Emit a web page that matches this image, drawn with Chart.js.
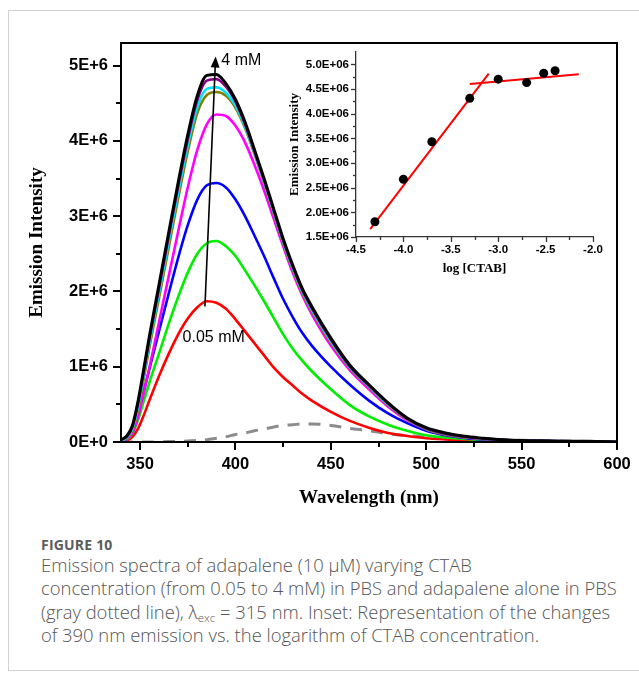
<!DOCTYPE html>
<html><head><meta charset="utf-8">
<script src="https://cdn.jsdelivr.net/npm/chart.js@4.4.1/dist/chart.umd.min.js"></script>
<style>
html,body{margin:0;padding:0;background:#fff;width:639px;height:677px;overflow:hidden;}
#card{position:absolute;left:8px;top:10px;width:700px;height:661px;border:1px solid #d2d2d2;box-sizing:border-box;}
#main{position:absolute;left:0;top:0;}
#inset{position:absolute;left:280px;top:40px;}
#figlabel{position:absolute;left:41px;top:535px;font:700 14px 'Open Sans';color:#5c5c5c;letter-spacing:0.2px;}
#caption{position:absolute;left:41px;top:553px;font:300 18.4px/23.4px 'Open Sans';color:#555;white-space:nowrap;}
#caption sub{font-size:11.5px;vertical-align:-3px;line-height:0;}
</style></head>
<body>
<div id="card"></div>
<canvas id="main" width="639" height="530"></canvas>
<canvas id="inset" width="340" height="240"></canvas>
<div id="figlabel">FIGURE 10</div>
<div id="caption">Emission spectra of adapalene (10 µM) varying CTAB<br>concentration (from 0.05 to 4 mM) in PBS and adapalene alone in PBS<br>(gray dotted line), λ<sub>exc</sub> = 315 nm. Inset: Representation of the changes<br>of 390 nm emission vs. the logarithm of CTAB concentration.</div>
<script>
// ---------- main spectra data (intensity in units of 1E+6) ----------
const wavelength = [340,343,346,349,352,355,360,365,370,375,380,385,390,395,400,405,410,415,420,425,430,435,440,450,460,470,480,490,500,510,520,530,540,550,560,575,590,600];
const conc4mM   = [0.03,0.08,0.22,0.55,0.98,1.42,2.10,2.78,3.45,4.08,4.60,4.87,4.88,4.76,4.55,4.25,3.88,3.50,3.10,2.70,2.35,2.04,1.80,1.38,1.02,0.76,0.52,0.32,0.19,0.12,0.075,0.05,0.03,0.02,0.015,0.01,0.005,0.0];
const conc3mM   = [0.03,0.07,0.20,0.52,0.94,1.38,2.05,2.73,3.40,4.02,4.54,4.80,4.82,4.72,4.52,4.22,3.86,3.48,3.08,2.68,2.33,2.02,1.78,1.36,1.00,0.75,0.51,0.31,0.18,0.11,0.07,0.045,0.03,0.02,0.015,0.01,0.005,0.0];
const conc2mM   = [0.02,0.06,0.18,0.48,0.90,1.33,1.99,2.66,3.32,3.94,4.45,4.69,4.71,4.64,4.47,4.19,3.84,3.46,3.06,2.66,2.31,2.00,1.76,1.34,0.99,0.74,0.50,0.31,0.18,0.11,0.07,0.045,0.03,0.02,0.015,0.01,0.005,0.0];
const conc1mM   = [0.02,0.05,0.16,0.44,0.85,1.27,1.92,2.58,3.24,3.86,4.37,4.61,4.65,4.60,4.44,4.17,3.82,3.44,3.04,2.64,2.29,1.98,1.74,1.32,0.98,0.73,0.49,0.30,0.17,0.10,0.065,0.04,0.028,0.02,0.014,0.009,0.005,0.0];
const conc05mM  = [0.01,0.04,0.12,0.34,0.66,1.00,1.60,2.20,2.80,3.38,3.88,4.22,4.35,4.33,4.20,3.98,3.68,3.34,2.97,2.60,2.25,1.95,1.70,1.28,0.95,0.70,0.47,0.29,0.17,0.10,0.06,0.04,0.025,0.02,0.012,0.008,0.004,0.0];
const conc02mM  = [0.01,0.04,0.14,0.38,0.68,0.98,1.48,1.97,2.45,2.88,3.22,3.41,3.44,3.38,3.22,3.00,2.74,2.47,2.18,1.90,1.66,1.45,1.28,1.00,0.76,0.55,0.38,0.25,0.15,0.09,0.055,0.035,0.025,0.015,0.01,0.006,0.003,0.0];
const conc01mM  = [0.01,0.03,0.11,0.30,0.55,0.80,1.18,1.57,1.93,2.25,2.50,2.64,2.67,2.60,2.47,2.28,2.08,1.87,1.65,1.43,1.24,1.08,0.94,0.70,0.49,0.34,0.23,0.15,0.09,0.06,0.04,0.025,0.018,0.012,0.008,0.005,0.002,0.0];
const conc005mM = [0.01,0.02,0.07,0.18,0.36,0.56,0.88,1.17,1.43,1.64,1.79,1.87,1.85,1.77,1.63,1.47,1.31,1.15,0.99,0.86,0.75,0.64,0.55,0.40,0.28,0.19,0.12,0.08,0.05,0.035,0.025,0.018,0.012,0.008,0.005,0.003,0.001,0.0];
const adapaleneAlone = [0,0,0,0,0,0,0.003,0.005,0.008,0.012,0.02,0.03,0.05,0.07,0.10,0.12,0.15,0.17,0.20,0.22,0.23,0.24,0.24,0.22,0.18,0.15,0.11,0.085,0.065,0.05,0.04,0.033,0.028,0.022,0.018,0.012,0.008,0.006];

const xTickValues = [350,400,450,500,550,600];
const xTickLabels = ['350','400','450','500','550','600'];
const xMinorTicks = [375,425,475,525,575];
const yTickValues = [0,1,2,3,4,5];
const yTickLabels = ['0E+0','1E+6','2E+6','3E+6','4E+6','5E+6'];
const yMinorTicks = [0.5,1.5,2.5,3.5,4.5];

// arrow annotation (data coordinates)
const arrowFrom = {x: 384, y: 1.80};
const arrowTo   = {x: 389.6, y: 5.12};
const labelHigh = {x: 392.6, y: 5.07, text: '4 mM'};
const labelLow  = {x: 372.3, y: 1.39, text: '0.05 mM'};

// ---------- inset data ----------
const logCTAB = [-4.30,-4.00,-3.70,-3.30,-3.00,-2.70,-2.52,-2.40];
const insetIntensity = [1.81,2.67,3.43,4.31,4.70,4.63,4.82,4.87];
const fitLowX = [-4.35,-3.10];
const fitLowY = [1.66,4.81];
const fitHighX = [-3.30,-2.15];
const fitHighY = [4.60,4.80];
const insetXTickValues = [-4.5,-4.0,-3.5,-3.0,-2.5,-2.0];
const insetXTickLabels = ['-4.5','-4.0','-3.5','-3.0','-2.5','-2.0'];
const insetXMinor = [-4.25,-3.75,-3.25,-2.75,-2.25];
const insetYTickValues = [1.5,2.0,2.5,3.0,3.5,4.0,4.5,5.0];
const insetYTickLabels = ['1.5E+06','2.0E+06','2.5E+06','3.0E+06','3.5E+06','4.0E+06','4.5E+06','5.0E+06'];
const insetYMinor = [1.75,2.25,2.75,3.25,3.75,4.25,4.75];

const SANS = '"Liberation Sans", Arial, sans-serif';
const SERIF = '"Liberation Serif", "Times New Roman", serif';

function series(values, color, extra) {
  return Object.assign({
    data: wavelength.map((w, i) => ({x: w, y: values[i]})),
    borderColor: color, borderWidth: 2.6, pointRadius: 0,
    cubicInterpolationMode: 'monotone', fill: false
  }, extra || {});
}

function drawTick(ctx, x1, y1, x2, y2) {
  ctx.beginPath(); ctx.moveTo(x1, y1); ctx.lineTo(x2, y2); ctx.stroke();
}

const mainPlugin = {
  id: 'mainDecor',
  afterDraw(chart) {
    const {ctx, chartArea: a, scales: {x, y}} = chart;
    ctx.save();
    ctx.strokeStyle = '#000';
    ctx.lineWidth = 2;
    ctx.strokeRect(a.left, a.top, a.right - a.left, a.bottom - a.top);
    yTickValues.forEach(v => { const p = Math.round(y.getPixelForValue(v)); drawTick(ctx, a.left - 8, p, a.left, p); });
    yMinorTicks.forEach(v => { const p = Math.round(y.getPixelForValue(v)); drawTick(ctx, a.left - 5, p, a.left, p); });
    xTickValues.forEach(v => { const p = Math.round(x.getPixelForValue(v)); drawTick(ctx, p, a.bottom, p, a.bottom + 8); });
    xMinorTicks.forEach(v => { const p = Math.round(x.getPixelForValue(v)); drawTick(ctx, p, a.bottom, p, a.bottom + 5); });
    // arrow
    const x0 = x.getPixelForValue(arrowFrom.x), y0 = y.getPixelForValue(arrowFrom.y);
    const x1 = x.getPixelForValue(arrowTo.x), y1 = y.getPixelForValue(arrowTo.y);
    const ang = Math.atan2(y1 - y0, x1 - x0);
    const hl = 11, hw = 4.5;
    ctx.lineWidth = 1.6;
    ctx.beginPath(); ctx.moveTo(x0, y0);
    ctx.lineTo(x1 - Math.cos(ang) * hl * 0.8, y1 - Math.sin(ang) * hl * 0.8); ctx.stroke();
    ctx.fillStyle = '#000';
    ctx.beginPath();
    ctx.moveTo(x1, y1);
    ctx.lineTo(x1 - Math.cos(ang) * hl - Math.sin(ang) * hw, y1 - Math.sin(ang) * hl + Math.cos(ang) * hw);
    ctx.lineTo(x1 - Math.cos(ang) * hl + Math.sin(ang) * hw, y1 - Math.sin(ang) * hl - Math.cos(ang) * hw);
    ctx.closePath(); ctx.fill();
    ctx.font = '16px ' + SANS;
    ctx.textBaseline = 'middle'; ctx.textAlign = 'left';
    [labelHigh, labelLow].forEach(l => ctx.fillText(l.text, x.getPixelForValue(l.x), y.getPixelForValue(l.y)));
    ctx.restore();
  }
};

new Chart(document.getElementById('main'), {
  type: 'line',
  data: {
    datasets: [
      series(conc4mM, '#000000', {borderWidth: 3}),
      series(conc3mM, '#8b008b'),
      series(conc2mM, '#00e5ff'),
      series(conc1mM, '#808000'),
      series(conc05mM, '#ff00ff'),
      series(conc02mM, '#0000ff'),
      series(conc01mM, '#00ee00'),
      series(conc005mM, '#ff0000'),
      series(adapaleneAlone, '#8c8c8c', {borderDash: [12, 9], borderWidth: 3})
    ]
  },
  options: {
    responsive: false, animation: false, devicePixelRatio: 1,
    layout: {padding: {left: 0, right: 22, top: 43, bottom: 0}},
    plugins: {legend: {display: false}, tooltip: {enabled: false}},
    scales: {
      x: {
        type: 'linear', min: 340, max: 600,
        afterFit: s => { s.height = 88; s.paddingLeft = 0; s.paddingRight = 0; },
        afterBuildTicks: s => { s.ticks = xTickValues.map(v => ({value: v})); },
        grid: {display: false, drawTicks: false}, border: {display: false},
        ticks: {padding: 13, color: '#000', font: {family: SANS, size: 16.5, weight: 'bold'},
                maxRotation: 0, autoSkip: false,
                callback: (v, i) => xTickLabels[i]},
        title: {display: true, text: 'Wavelength (nm)', color: '#000',
                font: {family: SERIF, size: 19, weight: 'bold'}, padding: {top: 0, bottom: 21}}
      },
      y: {
        type: 'linear', min: 0, max: 5.3,
        afterFit: s => { s.width = 121; s.paddingTop = 0; s.paddingBottom = 0; },
        afterBuildTicks: s => { s.ticks = yTickValues.map(v => ({value: v})); },
        grid: {display: false, drawTicks: false}, border: {display: false},
        ticks: {padding: 13, color: '#000', font: {family: SANS, size: 16.5, weight: 'bold'},
                autoSkip: false, callback: (v, i) => yTickLabels[i]},
        title: {display: true, text: 'Emission Intensity', color: '#000',
                font: {family: SERIF, size: 19, weight: 'bold'}, padding: {top: 26, bottom: 0}}
      }
    }
  },
  plugins: [mainPlugin]
});

const insetPlugin = {
  id: 'insetDecor',
  afterDraw(chart) {
    const {ctx, chartArea: a, scales: {x, y}} = chart;
    ctx.save();
    ctx.strokeStyle = '#333'; ctx.lineWidth = 1.3;
    insetYTickValues.forEach(v => { const p = Math.round(y.getPixelForValue(v)) + 0.5; drawTick(ctx, a.left - 5, p, a.left, p); });
    insetYMinor.forEach(v => { const p = Math.round(y.getPixelForValue(v)) + 0.5; drawTick(ctx, a.left - 3, p, a.left, p); });
    insetXTickValues.forEach(v => { const p = Math.round(x.getPixelForValue(v)) + 0.5; drawTick(ctx, p, a.bottom, p, a.bottom + 5); });
    insetXMinor.forEach(v => { const p = Math.round(x.getPixelForValue(v)) + 0.5; drawTick(ctx, p, a.bottom, p, a.bottom + 3); });
    ctx.restore();
  }
};

new Chart(document.getElementById('inset'), {
  type: 'scatter',
  data: {
    datasets: [
      {data: logCTAB.map((v, i) => ({x: v, y: insetIntensity[i]})), pointRadius: 4.5,
       pointBackgroundColor: '#000', pointBorderColor: '#000', pointBorderWidth: 0, showLine: false},
      {data: fitLowX.map((v, i) => ({x: v, y: fitLowY[i]})), showLine: true,
       borderColor: '#ff0000', borderWidth: 2, pointRadius: 0},
      {data: fitHighX.map((v, i) => ({x: v, y: fitHighY[i]})), showLine: true,
       borderColor: '#ff0000', borderWidth: 2, pointRadius: 0}
    ]
  },
  options: {
    responsive: false, animation: false, devicePixelRatio: 1,
    layout: {padding: {left: 0, right: 27, top: 12, bottom: 0}},
    plugins: {legend: {display: false}, tooltip: {enabled: false}},
    scales: {
      x: {
        type: 'linear', min: -4.5, max: -2.0,
        afterFit: s => { s.height = 43; s.paddingLeft = 0; s.paddingRight = 0; },
        afterBuildTicks: s => { s.ticks = insetXTickValues.map(v => ({value: v})); },
        grid: {display: false, drawTicks: false}, border: {display: true, color: '#333', width: 1.3},
        ticks: {padding: 6, color: '#000', font: {family: SANS, size: 11.5, weight: 'bold'},
                maxRotation: 0, autoSkip: false, callback: (v, i) => insetXTickLabels[i]},
        title: {display: true, text: 'log [CTAB]', color: '#000',
                font: {family: SERIF, size: 13, weight: 'bold'}, padding: {top: 0, bottom: 4}}
      },
      y: {
        type: 'linear', min: 1.5, max: 5.25,
        afterFit: s => { s.width = 76; s.paddingTop = 0; s.paddingBottom = 0; },
        afterBuildTicks: s => { s.ticks = insetYTickValues.map(v => ({value: v})); },
        grid: {display: false, drawTicks: false}, border: {display: true, color: '#333', width: 1.3},
        ticks: {padding: 7, color: '#000', font: {family: SANS, size: 11.5, weight: 'bold'},
                autoSkip: false, callback: (v, i) => insetYTickLabels[i]},
        title: {display: true, text: 'Emission Intensity', color: '#000',
                font: {family: SERIF, size: 13, weight: 'bold'}, padding: {top: 7, bottom: 0}}
      }
    }
  },
  plugins: [insetPlugin]
});
</script>
</body></html>
